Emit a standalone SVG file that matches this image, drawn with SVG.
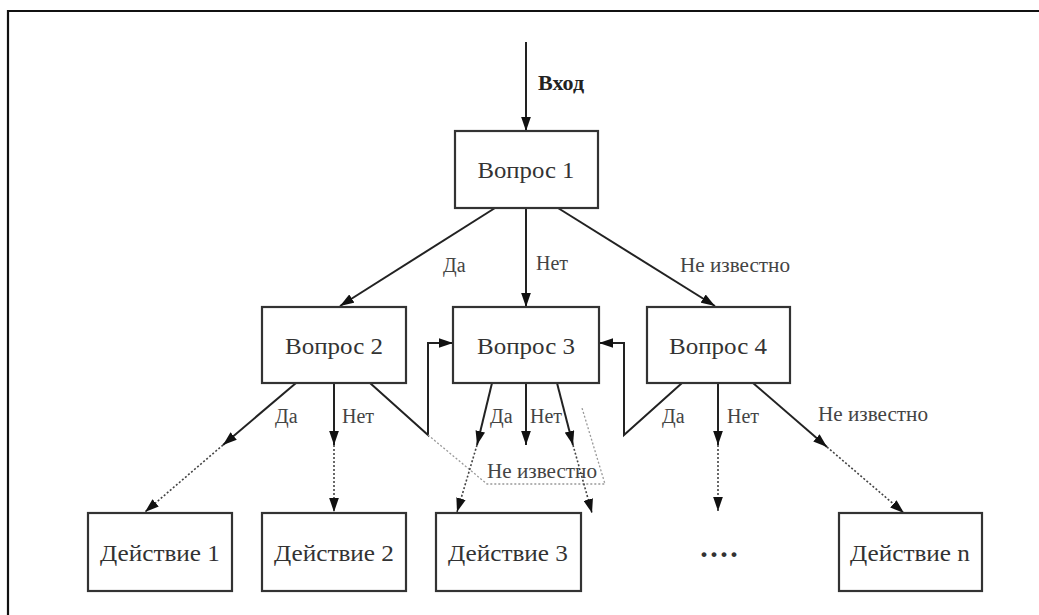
<svg xmlns="http://www.w3.org/2000/svg" width="1039" height="615" viewBox="0 0 1039 615">
<style>
.box{fill:#fff;stroke:#333;stroke-width:2.2}
.t{font-family:"Liberation Serif","Times New Roman",serif;font-size:24px;fill:#333;text-anchor:middle}
.lb{font-family:"Liberation Serif","Times New Roman",serif;font-size:20px;fill:#444}
.s{fill:none;stroke:#222;stroke-width:2}
.d{fill:none;stroke:#444;stroke-width:1.6;stroke-dasharray:2 2}
.g{fill:none;stroke:#999;stroke-width:1.3;stroke-dasharray:2 2}
</style>
<defs>
<marker id="ah" viewBox="0 0 13 9" refX="13" refY="4.5" markerWidth="14" markerHeight="10" markerUnits="userSpaceOnUse" orient="auto">
<path d="M0,0 L13,4.5 L0,9 Z" fill="#111"/>
</marker>
</defs>
<rect width="1039" height="615" fill="#fff"/>
<path d="M8,615 V11 H1039" fill="none" stroke="#111" stroke-width="2.2"/>

<g id="connectors">
<line class="s" x1="526" y1="42" x2="526" y2="131" marker-end="url(#ah)"/>
<line class="s" x1="495" y1="208" x2="340" y2="306" marker-end="url(#ah)"/>
<line class="s" x1="526" y1="208" x2="526" y2="307" marker-end="url(#ah)"/>
<line class="s" x1="558" y1="208" x2="715" y2="306" marker-end="url(#ah)"/>

<line class="s" x1="296" y1="383" x2="223" y2="445" marker-end="url(#ah)"/>
<line class="d" x1="223" y1="445" x2="145" y2="512" marker-end="url(#ah)"/>
<line class="s" x1="334" y1="383" x2="334" y2="445" marker-end="url(#ah)"/>
<line class="d" x1="334" y1="445" x2="334" y2="512" marker-end="url(#ah)"/>
<polyline class="s" points="370,383 428,435 428,343 453,343" marker-end="url(#ah)"/>
<polyline class="g" points="428,435 487,484 605,484 582,408"/>

<line class="s" x1="492" y1="383" x2="477" y2="445" marker-end="url(#ah)"/>
<line class="d" x1="477" y1="445" x2="457" y2="512" marker-end="url(#ah)"/>
<line class="s" x1="526" y1="383" x2="526" y2="445" marker-end="url(#ah)"/>
<line class="s" x1="557" y1="383" x2="573" y2="445" marker-end="url(#ah)"/>
<line class="d" x1="573" y1="445" x2="592" y2="513" marker-end="url(#ah)"/>

<polyline class="s" points="682,383 624,435 624,343 599,343" marker-end="url(#ah)"/>
<line class="s" x1="718" y1="383" x2="718" y2="445" marker-end="url(#ah)"/>
<line class="d" x1="718" y1="445" x2="718" y2="511" marker-end="url(#ah)"/>
<line class="s" x1="753" y1="383" x2="827" y2="447" marker-end="url(#ah)"/>
<line class="d" x1="827" y1="447" x2="904" y2="513" marker-end="url(#ah)"/>

<text class="lb" x="538" y="90" style="font-weight:bold;font-size:22px;fill:#222">Вход</text>
<text class="lb" x="443" y="272">Да</text>
<text class="lb" x="536" y="270">Нет</text>
<text class="lb" x="680" y="272" textLength="110" lengthAdjust="spacingAndGlyphs">Не известно</text>
<text class="lb" x="275" y="423">Да</text>
<text class="lb" x="342" y="423">Нет</text>
<text class="lb" x="490" y="423">Да</text>
<text class="lb" x="530" y="423">Нет</text>
<text class="lb" x="487" y="478" textLength="110" lengthAdjust="spacingAndGlyphs">Не известно</text>
<text class="lb" x="662" y="423">Да</text>
<text class="lb" x="727" y="423">Нет</text>
<text class="lb" x="818" y="421" textLength="110" lengthAdjust="spacingAndGlyphs">Не известно</text>
</g>

<g id="q1"><rect class="box" x="455" y="131" width="143" height="77"/><text class="t" x="526" y="178" textLength="97" lengthAdjust="spacingAndGlyphs">Вопрос 1</text></g>
<g id="q2"><rect class="box" x="262" y="307" width="144" height="76"/><text class="t" x="334" y="354" textLength="98" lengthAdjust="spacingAndGlyphs">Вопрос 2</text></g>
<g id="q3"><rect class="box" x="453" y="307" width="146" height="76"/><text class="t" x="526" y="354" textLength="98" lengthAdjust="spacingAndGlyphs">Вопрос 3</text></g>
<g id="q4"><rect class="box" x="647" y="307" width="143" height="76"/><text class="t" x="718" y="354" textLength="98" lengthAdjust="spacingAndGlyphs">Вопрос 4</text></g>
<g id="a1"><rect class="box" x="88" y="513" width="144" height="78"/><text class="t" x="160" y="561" textLength="120" lengthAdjust="spacingAndGlyphs">Действие 1</text></g>
<g id="a2"><rect class="box" x="262" y="513" width="144" height="78"/><text class="t" x="334" y="561" textLength="120" lengthAdjust="spacingAndGlyphs">Действие 2</text></g>
<g id="a3"><rect class="box" x="436" y="513" width="145" height="78"/><text class="t" x="508" y="561" textLength="120" lengthAdjust="spacingAndGlyphs">Действие 3</text></g>
<g id="dots"><text class="t" x="719" y="564" style="font-size:30px;font-weight:bold">····</text></g>
<g id="an"><rect class="box" x="839" y="513" width="143" height="78"/><text class="t" x="910" y="561" textLength="120" lengthAdjust="spacingAndGlyphs">Действие n</text></g>
</svg>
